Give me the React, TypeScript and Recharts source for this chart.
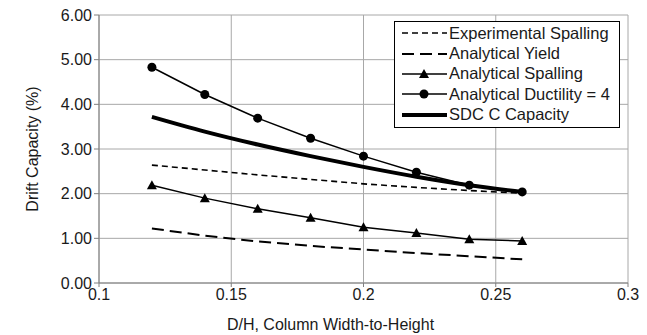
import { LineChart, Line, XAxis, YAxis, CartesianGrid } from 'recharts'

const ratios = [0.12, 0.14, 0.16, 0.18, 0.2, 0.22, 0.24, 0.26]
const experimentalSpalling = [2.64, 2.53, 2.42, 2.32, 2.22, 2.14, 2.07, 2.01]
const analyticalYield = [1.22, 1.06, 0.93, 0.83, 0.75, 0.67, 0.6, 0.53]
const analyticalSpalling = [2.19, 1.9, 1.66, 1.46, 1.25, 1.12, 0.98, 0.94]
const analyticalDuctility = [4.83, 4.22, 3.69, 3.24, 2.84, 2.48, 2.19, 2.04]
const sdcCapacity = [3.72, 3.39, 3.1, 2.84, 2.6, 2.38, 2.19, 2.04]

const xTicks = [0.1, 0.15, 0.2, 0.25, 0.3]
const yTicks = [0, 1, 2, 3, 4, 5, 6]

const data = ratios.map((r, i) => ({
  r,
  exp: experimentalSpalling[i],
  yld: analyticalYield[i],
  spl: analyticalSpalling[i],
  duc: analyticalDuctility[i],
  sdc: sdcCapacity[i],
}))

const font = '"Liberation Sans", Arial, sans-serif'

function Triangle(props: any) {
  const { cx, cy } = props
  if (cx == null || cy == null) return null
  return <path d={`M${cx},${cy - 5}L${cx + 5},${cy + 4}L${cx - 5},${cy + 4}Z`} fill="#000" />
}

const legendItems = [
  { name: 'Experimental Spalling', dash: '6 4', width: 1.6, marker: null },
  { name: 'Analytical Yield', dash: '12 6', width: 2, marker: null },
  { name: 'Analytical Spalling', dash: undefined, width: 1.5, marker: 'tri' },
  { name: 'Analytical Ductility = 4', dash: undefined, width: 1.5, marker: 'dot' },
  { name: 'SDC C Capacity', dash: undefined, width: 4, marker: null },
]

function LegendBox() {
  return (
    <div
      style={{
        position: 'absolute',
        left: 394,
        top: 21,
        border: '1px solid #000',
        background: '#fff',
        width: 226,
        padding: '1px 0 2px 6px',
        fontFamily: font,
        fontSize: 16.5,
        color: '#1a1a1a',
        boxSizing: 'border-box',
      }}
    >
      {legendItems.map((it) => (
        <div key={it.name} style={{ display: 'flex', alignItems: 'center', height: 20.4 }}>
          <svg width={47} height={12} style={{ marginRight: 1 }}>
            <line x1={1} y1={6} x2={46} y2={6} stroke="#000" strokeWidth={it.width} strokeDasharray={it.dash} />
            {it.marker === 'tri' && <path d="M23,1L28,10L18,10Z" fill="#000" />}
            {it.marker === 'dot' && <circle cx={23} cy={6} r={4.5} fill="#000" />}
          </svg>
          <span style={{ whiteSpace: 'nowrap' }}>{it.name}</span>
        </div>
      ))}
    </div>
  )
}

export default function App() {
  return (
    <div style={{ position: 'absolute', left: 0, top: 0, width: 647, height: 335, background: '#fff' }}>
      <LineChart width={647} height={335} data={data} margin={{ top: 15, right: 19, bottom: 2, left: 27 }}>
        <CartesianGrid stroke="#a8a8a8" strokeWidth={1} />
        <XAxis
          dataKey="r"
          type="number"
          domain={[0.1, 0.3]}
          ticks={xTicks}
          tickFormatter={(v: number) => String(v)}
          height={50}
          tickSize={4}
          stroke="#808080"
          tick={{ fill: '#1a1a1a', fontSize: 16, fontFamily: font }}
          label={{
            value: 'D/H, Column Width-to-Height',
            position: 'insideBottom',
            offset: 3,
            dx: -33,
            style: { fill: '#1a1a1a', fontSize: 16, fontFamily: font },
          }}
        />
        <YAxis
          type="number"
          domain={[0, 6]}
          ticks={yTicks}
          tickFormatter={(v: number) => v.toFixed(2)}
          width={72}
          tickSize={5}
          stroke="#808080"
          tick={{ fill: '#1a1a1a', fontSize: 16, fontFamily: font }}
          label={{
            value: 'Drift Capacity (%)',
            angle: -90,
            position: 'insideLeft',
            offset: 5,
            style: { textAnchor: 'middle', fill: '#1a1a1a', fontSize: 16, fontFamily: font },
          }}
        />
        <Line dataKey="exp" stroke="#000" strokeWidth={1.6} strokeDasharray="6 4" dot={false} isAnimationActive={false} />
        <Line dataKey="yld" stroke="#000" strokeWidth={2} strokeDasharray="12 6" dot={false} isAnimationActive={false} />
        <Line dataKey="spl" stroke="#000" strokeWidth={1.5} dot={<Triangle />} isAnimationActive={false} />
        <Line dataKey="duc" stroke="#000" strokeWidth={1.5} dot={{ r: 4.5, fill: '#000', stroke: '#000', strokeWidth: 0 }} isAnimationActive={false} />
        <Line dataKey="sdc" type="monotone" stroke="#000" strokeWidth={4} dot={false} isAnimationActive={false} />
      </LineChart>
      <LegendBox />
    </div>
  )
}
